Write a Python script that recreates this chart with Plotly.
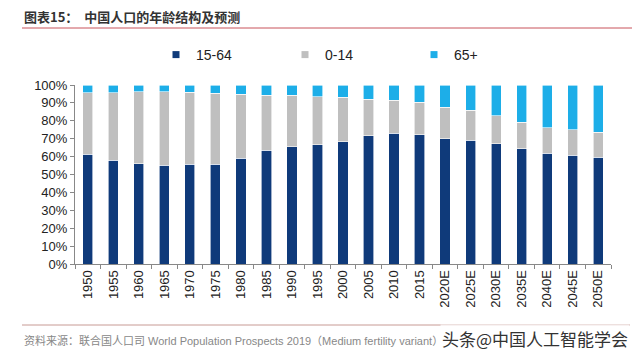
import plotly.graph_objects as go

years = ["1950", "1955", "1960", "1965", "1970", "1975", "1980", "1985", "1990", "1995",
         "2000", "2005", "2010", "2015", "2020E", "2025E", "2030E", "2035E", "2040E", "2045E", "2050E"]
age_15_64 = [61.3, 58.1, 55.9, 55.1, 55.7, 55.7, 59.0, 63.5, 65.5, 66.5,
             68.3, 71.7, 73.0, 72.2, 70.0, 69.1, 67.2, 64.4, 61.8, 60.7, 59.6]
age_0_14 = [34.4, 37.6, 40.4, 41.2, 40.3, 39.7, 35.8, 30.9, 28.9, 27.0,
            24.8, 20.3, 18.6, 18.3, 17.7, 16.8, 15.7, 14.8, 14.2, 14.2, 14.0]
age_65p = [4.3, 4.3, 3.7, 3.7, 4.0, 4.6, 5.2, 5.6, 5.6, 6.5,
           6.9, 8.0, 8.4, 9.5, 12.3, 14.1, 17.1, 20.8, 24.0, 25.1, 26.4]

series = [("15-64", age_15_64, "#0F3A7A"),
          ("0-14", age_0_14, "#BFBFBF"),
          ("65+", age_65p, "#1DAEE8")]

# page body has an 8px offset; work in screen coordinates and shift
OFF = 8
W, H = 640 - OFF, 355 - OFF
L, T = 75 - OFF, 85 - OFF
PW = 611 - 75
PH = 264 - 85
R = W - L - PW
B = H - T - PH


def px(x):
    return (x - OFF - L) / PW


def py(y):
    return (T + PH - (y - OFF)) / PH


fig = go.Figure()
for name, vals, col in series:
    fig.add_trace(go.Bar(x=years, y=vals, name=name,
                         marker=dict(color=col, line=dict(color="white", width=0.6)),
                         showlegend=False, width=0.4))
for name, vals, col in series:
    fig.add_trace(go.Scatter(x=[None], y=[None], mode="markers", name=name,
                             marker=dict(symbol="square", size=7, color=col), showlegend=True))

fig.update_layout(
    barmode="stack",
    width=W, height=H,
    margin=dict(l=L, r=R, t=T, b=B, autoexpand=False),
    paper_bgcolor="white", plot_bgcolor="white",
    font=dict(family="Liberation Sans, Arial, sans-serif", size=13, color="#222"),
    legend=dict(orientation="h", x=px(156), y=py(55), xanchor="left", yanchor="middle",
                entrywidth=84, entrywidthmode="pixels", traceorder="normal",
                font=dict(size=14, color="#222"), bgcolor="rgba(0,0,0,0)"),
    xaxis=dict(type="category", showline=True, linecolor="#888", linewidth=1,
               ticks="outside", tickson="boundaries", ticklen=4, tickcolor="#888",
               tickangle=-90, tickfont=dict(size=13, color="#222"), showgrid=False),
    yaxis=dict(range=[0, 100], dtick=10, ticksuffix="%", showline=True, linecolor="#888", linewidth=1,
               ticks="outside", ticklen=4, tickcolor="#888", showgrid=False, zeroline=False,
               tickfont=dict(size=13, color="#222")),
)

fig.add_annotation(xref="paper", yref="paper", x=px(22), y=py(17),
                   xanchor="left", yanchor="middle", showarrow=False,
                   text="<b>图表15：</b>  <b>中国人口的年龄结构及预测</b>",
                   font=dict(family="Noto Sans CJK SC", size=13, color="#333"))
fig.add_annotation(xref="paper", yref="paper", x=px(22), y=py(340),
                   xanchor="left", yanchor="middle", showarrow=False,
                   text="资料来源：联合国人口司 World Population Prospects 2019（Medium fertility variant）",
                   font=dict(family="Liberation Sans, Noto Sans CJK SC", size=11, color="#888"))
fig.add_annotation(xref="paper", yref="paper", x=px(630), y=py(338),
                   xanchor="right", yanchor="middle", showarrow=False,
                   text="头条@中国人工智能学会", bgcolor="rgba(255,255,255,0.75)",
                   font=dict(family="Noto Sans CJK SC", size=17, color="#333"))

fig.add_shape(type="line", xref="paper", yref="paper", x0=px(22), x1=px(640),
              y0=py(28), y1=py(28), line=dict(color="#C8525A", width=1))
fig.add_shape(type="line", xref="paper", yref="paper", x0=px(22), x1=px(630),
              y0=py(325), y1=py(325), line=dict(color="#C79A94", width=1))

fig.write_html("out.html")
